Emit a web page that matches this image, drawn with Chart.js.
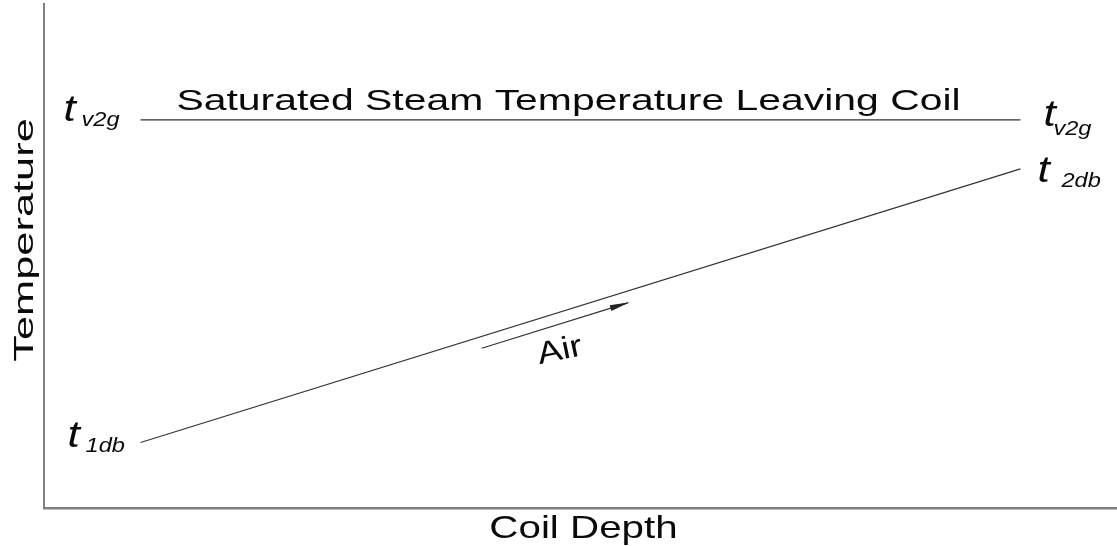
<!DOCTYPE html>
<html>
<head>
<meta charset="utf-8">
<script src="https://cdn.jsdelivr.net/npm/chart.js@4.4.0/dist/chart.umd.min.js"></script>
<style>
    html, body { margin: 0; padding: 0; background: #fff; }
    #wrap { width: 1117px; height: 546px; }
</style>
</head>
<body>
<div id="wrap"><canvas id="coilChart"></canvas></div>
<script>
// coil depth runs 0..100 across the plot, temperature 0..100 up the plot (no units shown)
const depth = [9, 91];
const steamTemp = [77, 77];
const airTemp = [13, 67.3];
const arrowDepth = [40.8, 54.4];
const arrowTemp = [31.7, 40.7];

const steamTitle = 'Saturated Steam Temperature Leaving Coil';
const xTitle = 'Coil Depth';
const yTitle = 'Temperature';
const flowLabel = 'Air';

const toPoints = (xs, ys) => xs.map((x, i) => ({ x: x, y: ys[i] }));

const FONT = '"Liberation Sans", Arial, sans-serif';

function stretchText(ctx, text, x, y, size, sx, align, italic, rot) {
    ctx.save();
    ctx.translate(x, y);
    if (rot) ctx.rotate(rot);
    ctx.scale(sx, 1);
    ctx.font = (italic ? 'italic ' : '') + size + 'px ' + FONT;
    ctx.textAlign = align || 'left';
    ctx.textBaseline = 'alphabetic';
    ctx.fillStyle = '#0a0a0a';
    ctx.fillText(text, 0, 0);
    ctx.restore();
}

// t with italic subscript, x = left edge of the t, y = baseline of the t
function subLabel(ctx, sub, x, y, subDx, subDy) {
    stretchText(ctx, 't', x, y, 37, 1.2, 'left', true);
    stretchText(ctx, sub, x + subDx, y + subDy, 20, 1.18, 'left', true);
}

const annotations = {
    id: 'annotations',
    afterDatasetsDraw(chart) {
        const ctx = chart.ctx;
        const area = chart.chartArea;
        const steam = chart.getDatasetMeta(0).data;
        const air = chart.getDatasetMeta(1).data;
        const arrow = chart.getDatasetMeta(2).data;

        // arrow head on the air-flow arrow
        const a0 = arrow[0], a1 = arrow[1];
        const ang = Math.atan2(a1.y - a0.y, a1.x - a0.x);
        ctx.save();
        ctx.translate(a1.x, a1.y);
        ctx.rotate(ang);
        ctx.beginPath();
        ctx.moveTo(2, 0);
        ctx.lineTo(-18, -3);
        ctx.lineTo(-18, 3);
        ctx.closePath();
        ctx.fillStyle = '#222';
        ctx.fill();
        ctx.restore();

        // line end labels
        subLabel(ctx, 'v2g', steam[0].x - 77, steam[0].y + 1, 18, 5);
        subLabel(ctx, 'v2g', steam[1].x + 23, steam[1].y + 6, 10, 9);
        subLabel(ctx, '2db', air[1].x + 17, air[1].y + 13, 24, 5);
        subLabel(ctx, '1db', air[0].x - 73, air[0].y + 5, 18, 5);

        // title above the steam line
        stretchText(ctx, steamTitle, (steam[0].x + steam[1].x) / 2 - 12, steam[0].y - 10, 29, 1.41, 'center');

        // "Air" under the arrow
        const mx = (a0.x + a1.x) / 2, my = (a0.y + a1.y) / 2;
        stretchText(ctx, flowLabel, mx + 7, my + 34, 31, 1.2, 'center', false, -12 * Math.PI / 180);

        // axis titles
        stretchText(ctx, xTitle, (area.left + area.right) / 2 + 3, area.bottom + 30, 32, 1.26, 'center');
        stretchText(ctx, yTitle, area.left - 11, area.top + 236, 28, 1.55, 'center', false, -Math.PI / 2);
    }
};

const ctx = document.getElementById('coilChart').getContext('2d');

new Chart(ctx, {
    type: 'line',
    data: {
        datasets: [
            {
                label: 'steam',
                data: toPoints(depth, steamTemp),
                borderColor: '#333',
                borderWidth: 1.4,
                pointRadius: 0
            },
            {
                label: 'air',
                data: toPoints(depth, airTemp),
                borderColor: '#333',
                borderWidth: 1.2,
                pointRadius: 0
            },
            {
                label: 'flow',
                data: toPoints(arrowDepth, arrowTemp),
                borderColor: '#333',
                borderWidth: 1.2,
                pointRadius: 0
            }
        ]
    },
    options: {
        responsive: true,
        maintainAspectRatio: false,
        animation: false,
        layout: {
            padding: { left: 44, top: 4, right: 0, bottom: 38 }
        },
        plugins: {
            legend: { display: false },
            tooltip: { enabled: false }
        },
        scales: {
            x: {
                type: 'linear',
                min: 0,
                max: 100,
                grid: { display: false, drawTicks: false },
                ticks: { display: false },
                border: { display: true, color: '#808080', width: 2.5 }
            },
            y: {
                type: 'linear',
                min: 0,
                max: 100,
                grid: { display: false, drawTicks: false },
                ticks: { display: false },
                border: { display: true, color: '#808080', width: 2 }
            }
        }
    },
    plugins: [annotations]
});
</script>
</body>
</html>
